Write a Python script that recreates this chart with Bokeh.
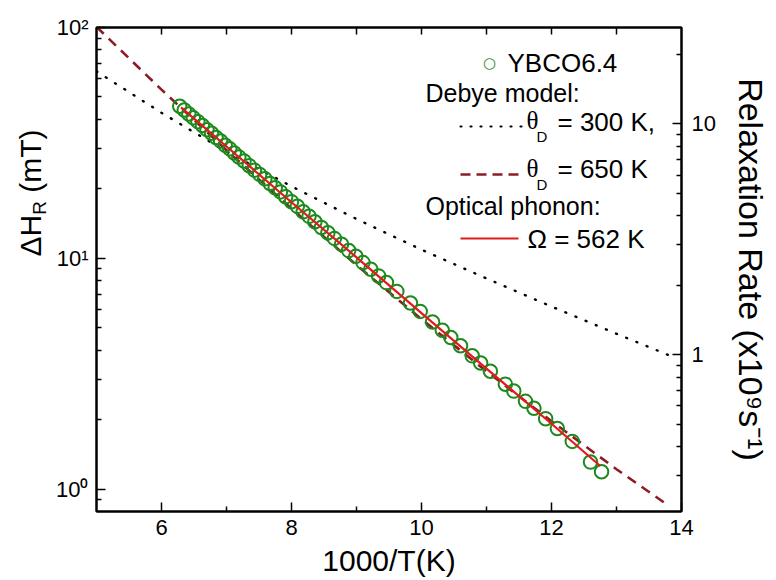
from math import pi
from bokeh.plotting import figure
from bokeh.layouts import row
from bokeh.models import (Range1d, LogAxis, LinearAxis, FixedTicker, Label, Arrow,
                          CustomJSTickFormatter, LogScale)
from bokeh.embed import file_html
from bokeh.resources import INLINE

# ---------------- data ----------------
ybco_x = [6.28, 6.35, 6.42, 6.49, 6.56, 6.63, 6.70, 6.77, 6.84, 6.91, 6.98, 7.05, 7.12,
          7.19, 7.27, 7.35, 7.43, 7.51, 7.59, 7.67, 7.75, 7.83, 7.91, 8.00, 8.09, 8.18,
          8.27, 8.36, 8.46, 8.56, 8.66, 8.77, 8.88, 8.99, 9.10, 9.22, 9.34, 9.46, 9.62,
          9.83, 9.98, 10.17, 10.32, 10.45, 10.60, 10.78, 10.91, 11.06, 11.29, 11.42,
          11.60, 11.73, 11.91, 12.09, 12.32, 12.60, 12.77]
ybco_y = [45.6, 43.9, 42.2, 40.6, 39.1, 37.6, 36.1, 34.8, 33.4, 32.2, 30.9, 29.8, 28.6,
          27.5, 26.4, 25.2, 24.1, 23.1, 22.1, 21.1, 20.2, 19.4, 18.5, 17.6, 16.8, 15.9,
          15.2, 14.4, 13.6, 12.9, 12.2, 11.5, 10.8, 10.2, 9.58, 8.97, 8.39, 7.85, 7.19,
          6.40, 5.89, 5.30, 4.88, 4.54, 4.18, 3.78, 3.52, 3.24, 2.85, 2.66,
          2.40, 2.24, 2.02, 1.83, 1.61, 1.31, 1.19]

debye300_x = [5, 6, 7, 8, 9, 10, 11, 12, 13, 13.88]
debye300_y = [64.6, 42.7, 29.0, 20.5, 14.8, 10.9, 8.18, 6.18, 4.71, 3.73]

debye650_x = [5, 6, 7, 8, 9, 10, 11, 12, 13, 13.8]
debye650_y = [100.7, 53.8, 29.4, 16.4, 9.35, 5.45, 3.24, 1.97, 1.22, 0.849]

optical_x = [6.3, 7, 8, 9, 10, 11, 12, 12.75]
optical_y = [45.1, 30.5, 17.5, 10.1, 5.79, 3.33, 1.92, 1.26]

x_major = [6, 8, 10, 12, 14]
x_minor = [7, 9, 11, 13]
x_top = [6, 7, 8, 9, 10, 11, 12, 13]
left_major = [1, 10, 100]
left_labels = ["10\u2070", "10\u00b9", "10\u00b2"]
left_minor = [0.9, 2, 3, 4, 5, 6, 7, 8, 9, 20, 30, 40, 50, 60, 70, 80, 90]
right_major = [1, 10]
right_labels = ["1", "10"]
right_minor = [0.3, 0.4, 0.5, 0.6, 0.7, 0.8, 0.9, 2, 3, 4, 5, 6, 7, 8, 9, 20]
scale_ratio = 3.82   # mT per 1e9 s^-1

FONT = "Liberation Sans"
SERIF = "Liberation Serif"
GREEN = "#1d8a1d"
DARKRED = "#8c1c24"
RED = "#e31a1c"

# ---------------- layout geometry (page pixels) ----------------
PAGE_W, PAGE_H = 776, 580
LEFT_STRIP = 52
MAIN_W = PAGE_W - LEFT_STRIP
FRAME_L, FRAME_R, FRAME_T, FRAME_B = 96, 681, 27, 511

y_lo, y_hi = 0.8, 100.0
p = figure(width=MAIN_W, height=PAGE_H, output_backend="svg", toolbar_location=None,
           x_range=Range1d(5, 14), y_range=Range1d(y_lo, y_hi), y_axis_type="log",
           x_axis_location=None, y_axis_location=None,
           min_border_left=FRAME_L - LEFT_STRIP,
           min_border_right=PAGE_W - FRAME_R,
           min_border_top=FRAME_T, min_border_bottom=PAGE_H - FRAME_B,
           background_fill_color="white", border_fill_color="white")
p.grid.visible = False
p.outline_line_color = "black"
p.outline_line_width = 2

p.extra_y_ranges = {"right": Range1d(y_lo / scale_ratio, y_hi / scale_ratio)}
p.extra_y_scales = {"right": LogScale()}

fmt_code = """
for (let i = 0; i < vals.length; i++) {
  if (Math.abs(vals[i] - tick) < 1e-6 * vals[i]) { return labs[i]; }
}
return "";
"""

bottom_axis = LinearAxis(ticker=FixedTicker(ticks=x_major, minor_ticks=x_minor),
                         axis_label="1000/T(K)")
top_axis = LinearAxis(ticker=FixedTicker(ticks=[], minor_ticks=x_top))
left_axis = LogAxis(ticker=FixedTicker(ticks=left_major, minor_ticks=left_minor),
                    formatter=CustomJSTickFormatter(args=dict(vals=left_major, labs=left_labels),
                                                    code=fmt_code))
right_axis = LogAxis(y_range_name="right",
                     ticker=FixedTicker(ticks=right_major, minor_ticks=right_minor),
                     formatter=CustomJSTickFormatter(args=dict(vals=right_major, labs=right_labels),
                                                     code=fmt_code),
                     axis_label="Relaxation Rate (x10\u2079s\u207b\u00b9)")
p.add_layout(bottom_axis, "below")
p.add_layout(top_axis, "above")
p.add_layout(left_axis, "left")
p.add_layout(right_axis, "right")

for ax in [bottom_axis, top_axis, left_axis, right_axis]:
    ax.axis_line_color = "black"
    ax.axis_line_width = 2
    ax.major_tick_line_color = "black"
    ax.minor_tick_line_color = "black"
    ax.major_tick_line_width = 1.5
    ax.minor_tick_line_width = 1.5
    ax.major_tick_in = 9
    ax.major_tick_out = 0
    ax.minor_tick_in = 5
    ax.minor_tick_out = 0
    ax.major_label_text_font = FONT
    ax.major_label_text_font_size = "22px"
    ax.major_label_text_color = "black"
    ax.axis_label_text_font = FONT
    ax.axis_label_text_font_style = "normal"
    ax.axis_label_text_color = "black"

top_axis.minor_tick_in = 7
bottom_axis.major_label_standoff = 8
left_axis.major_label_standoff = 8
right_axis.major_label_standoff = 10
bottom_axis.axis_label_text_font_size = "30px"
bottom_axis.axis_label_standoff = 6
right_axis.axis_label_text_font_size = "34px"
right_axis.axis_label_standoff = 13

# ---------------- series ----------------
p.line(debye300_x, debye300_y, line_color="black", line_width=2.4,
       line_dash="1 10", line_cap="round")
p.line(debye650_x, debye650_y, line_color=DARKRED, line_width=2.6, line_dash="10 7")
p.scatter(ybco_x, ybco_y, marker="circle", size=13.5, fill_color=None,
          line_color=GREEN, line_width=2)
p.line(optical_x, optical_y, line_color=RED, line_width=2.2)


# ---------------- helpers ----------------
def add_label(fig, text, sx, sy, size, font=FONT, align="left", baseline="middle",
              angle=0.0, color="black"):
    fig.add_layout(Label(x=sx, y=sy, x_units="screen", y_units="screen",
                         text=text, text_font=font, text_font_size=f"{size}px",
                         text_align=align, text_baseline=baseline, angle=angle,
                         text_color=color))


def main_label(text, px, py, size, **kw):
    add_label(p, text, px - FRAME_L, FRAME_B - py, size, **kw)


def sample(px0, px1, py, color, width, dash="solid", cap="butt"):
    p.add_layout(Arrow(end=None, start=None, x_start=px0 - FRAME_L, y_start=FRAME_B - py,
                       x_end=px1 - FRAME_L, y_end=FRAME_B - py, start_units="screen",
                       end_units="screen", line_color=color, line_width=width,
                       line_dash=dash, line_cap=cap))


def strip(width):
    f = figure(width=width, height=PAGE_H, output_backend="svg", toolbar_location=None,
               x_range=Range1d(0, 1), y_range=Range1d(0, 1),
               x_axis_location=None, y_axis_location=None, min_border=0,
               background_fill_color="white", border_fill_color="white")
    f.grid.visible = False
    f.outline_line_color = None
    return f


# ---------------- left title: ΔH_R (mT), centred text pieces ----------------
ls = strip(LEFT_STRIP)
lt_size, lt_sub = 30, 19
w_dh = 1.389 * lt_size
w_r = 0.722 * lt_sub
w_sp = 0.278 * lt_size
w_mt = 2.11 * lt_size
y0 = 325
c_dh = y0 - w_dh / 2
c_r = y0 - w_dh - w_r / 2
c_mt = y0 - w_dh - w_r - w_sp - w_mt / 2
add_label(ls, "\u0394H", 30, PAGE_H - c_dh, lt_size, align="center", angle=pi / 2)
add_label(ls, "R", 39, PAGE_H - c_r, lt_sub, align="center", angle=pi / 2)
add_label(ls, "(mT)", 30, PAGE_H - c_mt, lt_size, align="center", angle=pi / 2)

# ---------------- legend ----------------
LG = 25
main_label("\u25cb", 489, 62, 15, font="DejaVu Sans", align="center", color=GREEN)
main_label("YBCO6.4", 507, 62, 26)
main_label("Debye model:", 425, 92, LG)
sample(460, 523, 126, "black", 2.2, dash="1 9", cap="round")
main_label("\u03b8", 526, 120, 25, font=SERIF)
main_label("D", 536, 136, 15)
main_label("= 300 K,", 557, 121, 26)
sample(460, 523, 174, DARKRED, 2.6, dash="10 6")
main_label("\u03b8", 526, 168, 25, font=SERIF)
main_label("D", 536, 184, 15)
main_label("= 650 K", 557, 168, 26)
main_label("Optical phonon:", 425, 205, LG)
sample(460, 518, 238, RED, 2.2)
main_label("\u03a9 = 562 K", 527, 238, 26)

layout = row(ls, p, spacing=0)
open("out.html", "w").write(file_html(layout, INLINE))
